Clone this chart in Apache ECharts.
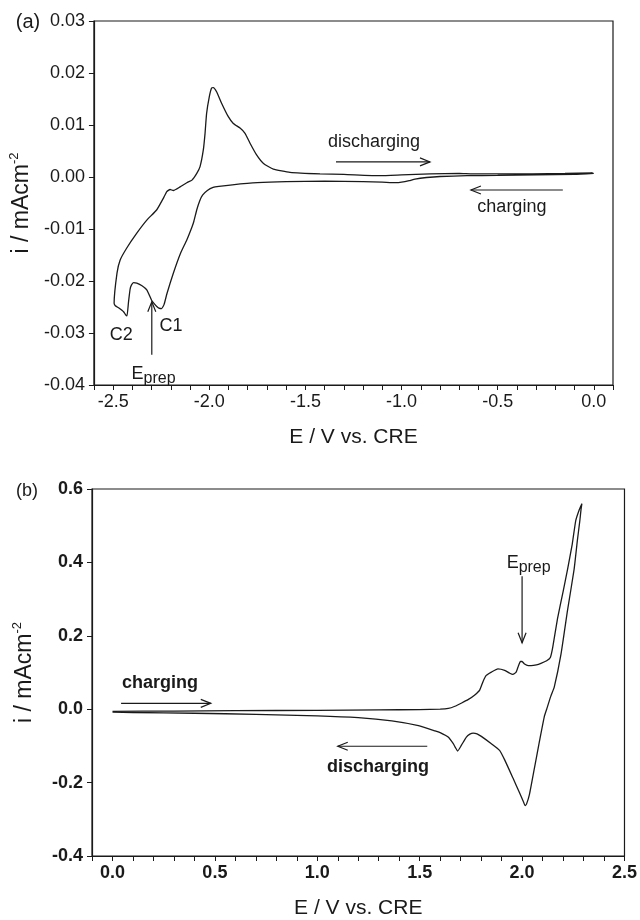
<!DOCTYPE html>
<html>
<head>
<meta charset="utf-8">
<script src="https://cdn.jsdelivr.net/npm/echarts@6/dist/echarts.min.js"></script>
<style>
  html, body { margin: 0; padding: 0; background: #fff; }
  #chart { width: 640px; height: 920px; }
</style>
</head>
<body>
<div id="chart"></div>
<script>
// (a) sweep: 0 V -> -2.5 V (charging, lower branch), then back to 0 V (discharging, upper branch)
const eA = [0.0, -0.1, -0.3, -0.5, -0.66, -0.8, -0.87, -0.93, -0.96, -1.0, -1.03, -1.1, -1.2, -1.4, -1.6, -1.75, -1.88, -1.95, -1.98, -2.01, -2.035, -2.05, -2.065, -2.08, -2.09, -2.117, -2.15, -2.187, -2.22, -2.235, -2.248, -2.262, -2.273, -2.29, -2.3, -2.325, -2.35, -2.377, -2.394, -2.405, -2.412, -2.42, -2.428, -2.435, -2.446, -2.47, -2.49,
  -2.495, -2.48, -2.464, -2.43, -2.377, -2.325, -2.273, -2.239, -2.221, -2.204, -2.187, -2.152, -2.117, -2.09, -2.065, -2.048, -2.031, -2.022, -2.014, -2.0, -1.988, -1.979, -1.962, -1.936, -1.901, -1.875, -1.84, -1.814, -1.788, -1.753, -1.718, -1.667, -1.58, -1.424, -1.3, -1.11, -1.0, -0.85, -0.7, -0.63, -0.45, -0.32, -0.15, -0.006];
const iA = [0.0007, 0.0005, 0.0004, 0.0003, 0.00025, 0.0001, -0.0001, -0.0004, -0.0007, -0.001, -0.0011, -0.001, -0.0009, -0.0008, -0.0009, -0.0011, -0.0015, -0.0018, -0.002, -0.0026, -0.0035, -0.0046, -0.0063, -0.0085, -0.0096, -0.0121, -0.0147, -0.0185, -0.0224, -0.0245, -0.0253, -0.0252, -0.0249, -0.0242, -0.0237, -0.0217, -0.0209, -0.0204, -0.0203, -0.0208, -0.0216, -0.024, -0.0267, -0.0265, -0.0259, -0.0252, -0.0247,
  -0.0243, -0.0185, -0.016, -0.0137, -0.0108, -0.0083, -0.0063, -0.0041, -0.0028, -0.0024, -0.0026, -0.0019, -0.0011, -0.0006, 0.0007, 0.002, 0.0052, 0.0084, 0.0122, 0.0154, 0.0171, 0.0172, 0.0164, 0.0142, 0.0116, 0.0103, 0.0094, 0.0084, 0.0065, 0.0042, 0.0026, 0.0015, 0.0009, 0.0006, 0.0005, 0.00025, 0.0004, 0.0006, 0.0007, 0.0006, 0.0006, 0.0006, 0.0007, 0.0008];

// (b) sweep: 0 V -> 2.3 V (charging, upper branch), then back to 0 V (discharging, lower branch)
const eB = [0.0, 0.3, 0.6, 1.0, 1.3, 1.5, 1.6, 1.64, 1.672, 1.705, 1.736, 1.769, 1.793, 1.809, 1.825, 1.85, 1.882, 1.915, 1.94, 1.955, 1.971, 1.982, 1.992, 2.0, 2.012, 2.03, 2.044, 2.07, 2.092, 2.12, 2.138, 2.15, 2.173, 2.2, 2.222, 2.245, 2.262, 2.28, 2.292,
  2.288, 2.282, 2.27, 2.254, 2.222, 2.19, 2.157, 2.14, 2.12, 2.109, 2.084, 2.06, 2.036, 2.022, 2.015, 2.005, 1.987, 1.955, 1.915, 1.89, 1.85, 1.801, 1.78, 1.761, 1.745, 1.728, 1.704, 1.685, 1.675, 1.664, 1.639, 1.6, 1.575, 1.494, 1.364, 1.2, 1.0, 0.7, 0.4, 0.1, 0.0];
const iB = [-0.006, -0.005, -0.004, -0.003, -0.002, -0.001, 0.0, 0.002, 0.008, 0.017, 0.026, 0.039, 0.052, 0.075, 0.092, 0.101, 0.11, 0.106, 0.098, 0.095, 0.101, 0.118, 0.13, 0.13, 0.123, 0.119, 0.119, 0.121, 0.125, 0.132, 0.141, 0.17, 0.247, 0.32, 0.381, 0.45, 0.514, 0.545, 0.56,
  0.545, 0.514, 0.46, 0.381, 0.27, 0.15, 0.06, 0.035, 0.0, -0.019, -0.09, -0.161, -0.232, -0.258, -0.263, -0.25, -0.227, -0.187, -0.138, -0.112, -0.094, -0.074, -0.067, -0.065, -0.068, -0.076, -0.098, -0.114, -0.105, -0.094, -0.076, -0.064, -0.059, -0.045, -0.032, -0.023, -0.018, -0.014, -0.011, -0.009, -0.008];

// labelled ticks
const xLabelsA = [-2.5, -2.0, -1.5, -1.0, -0.5, 0.0];
const xLabelsB = [0.0, 0.5, 1.0, 1.5, 2.0, 2.5];

const FONT = 'Liberation Sans, Arial, sans-serif';
const INK = '#1a1a1a';

const zip = (xs, ys) => xs.map((x, k) => [x, ys[k]]);
const clean = v => (Math.abs(v) < 1e-9 ? 0 : v);
const inList = (v, list) => list.some(t => Math.abs(t - v) < 1e-6);

function xAxis(gi, min, max, labels, weight) {
  return {
    type: 'value', gridIndex: gi, min: min, max: max, interval: 0.1,
    axisLine: { show: true, onZero: false, lineStyle: { color: INK, width: 1.2 } },
    axisTick: { show: true, length: 5, lineStyle: { color: INK, width: 1 } },
    splitLine: { show: false },
    axisLabel: {
      margin: 8, fontSize: 18, color: INK, fontFamily: FONT, fontWeight: weight,
      formatter: v => inList(v, labels) ? clean(v).toFixed(1) : ''
    },
    name: 'E / V vs. CRE', nameLocation: 'middle', nameGap: 42,
    nameTextStyle: { fontSize: 21, color: INK, fontFamily: FONT }
  };
}

function yAxis(gi, min, max, step, digits, weight) {
  return {
    type: 'value', gridIndex: gi, min: min, max: max, interval: step,
    axisLine: { show: true, onZero: false, lineStyle: { color: INK, width: 1.2 } },
    axisTick: { show: true, length: 5, lineStyle: { color: INK, width: 1 } },
    splitLine: { show: false },
    axisLabel: {
      margin: 9, fontSize: 18, color: INK, fontFamily: FONT, fontWeight: weight,
      formatter: v => clean(v).toFixed(digits)
    },
    name: '{n|i / mAcm}{s|-2}', nameLocation: 'middle', nameRotate: 90, nameGap: 54,
    nameTextStyle: {
      color: INK, fontFamily: FONT,
      rich: {
        n: { fontSize: 23, lineHeight: 27, fontFamily: FONT, color: INK },
        s: { fontSize: 13, lineHeight: 13, verticalAlign: 'top', fontFamily: FONT, color: INK }
      }
    }
  };
}

const chart = echarts.init(document.getElementById('chart'));

chart.setOption({
  animation: false,
  backgroundColor: '#fff',
  grid: [
    { left: 93, top: 21, width: 520, height: 364, show: true, borderColor: INK, borderWidth: 1.2 },
    { left: 92, top: 489, width: 535, height: 374, show: true, borderColor: INK, borderWidth: 1.2 }
  ],
  xAxis: [
    xAxis(0, -2.6, 0.1, xLabelsA, 'normal'),
    xAxis(1, -0.1, 2.5, xLabelsB, 'bold')
  ],
  yAxis: [
    yAxis(0, -0.04, 0.03, 0.01, 2, 'normal'),
    yAxis(1, -0.4, 0.6, 0.2, 1, 'bold')
  ],
  series: [
    { type: 'line', xAxisIndex: 0, yAxisIndex: 0, data: zip(eA, iA), showSymbol: false, smooth: 0.15,
      lineStyle: { color: INK, width: 1.3 } },
    { type: 'line', xAxisIndex: 1, yAxisIndex: 1, data: zip(eB, iB), showSymbol: false, smooth: 0.15,
      lineStyle: { color: INK, width: 1.3 } }
  ]
});

// annotations, anchored in data coordinates
const notes = [
  { grid: 0, text: 'discharging', at: [-1.143, 0.0067] },
  { grid: 0, text: 'charging', at: [-0.426, -0.0058] },
  { grid: 0, text: 'C2', at: [-2.458, -0.0304] },
  { grid: 0, text: 'C1', at: [-2.199, -0.0287] },
  { grid: 0, text: '{e|E}{p|prep}', at: [-2.29, -0.0378] },
  { grid: 1, text: 'charging', at: [0.232, 0.072], bold: true },
  { grid: 1, text: 'discharging', at: [1.296, -0.157], bold: true },
  { grid: 1, text: '{e|E}{p|prep}', at: [2.032, 0.399] }
];
const arrows = [
  { grid: 0, from: [-1.341, 0.0029], to: [-0.852, 0.0029] },
  { grid: 0, from: [-0.161, -0.0025], to: [-0.639, -0.0025] },
  { grid: 0, from: [-2.299, -0.0342], to: [-2.299, -0.024] },
  { grid: 1, from: [0.042, 0.016], to: [0.48, 0.016] },
  { grid: 1, from: [1.537, -0.101], to: [1.1, -0.101] },
  { grid: 1, from: [2.0, 0.362], to: [2.0, 0.181] }
];

const px = (g, p) => chart.convertToPixel({ gridIndex: g }, p);
const graphic = [];

notes.forEach(n => {
  const p = px(n.grid, n.at);
  graphic.push({
    type: 'text', x: p[0], y: p[1], silent: true,
    style: {
      text: n.text, fill: INK, fontFamily: FONT, fontSize: 18,
      fontWeight: n.bold ? 'bold' : 'normal', align: 'center', verticalAlign: 'middle',
      rich: {
        e: { fontSize: 18, lineHeight: 26, fontFamily: FONT, fill: INK },
        p: { fontSize: 16, lineHeight: 16, verticalAlign: 'bottom', fontFamily: FONT, fill: INK }
      }
    }
  });
});

arrows.forEach(a => {
  const p0 = px(a.grid, a.from);
  const p1 = px(a.grid, a.to);
  const dx = p1[0] - p0[0], dy = p1[1] - p0[1];
  const len = Math.hypot(dx, dy);
  const ux = dx / len, uy = dy / len;
  const hl = 10, hw = 4;
  graphic.push({
    type: 'line', silent: true,
    shape: { x1: p0[0], y1: p0[1], x2: p1[0], y2: p1[1] },
    style: { stroke: INK, lineWidth: 1.2 }
  });
  graphic.push({
    type: 'polyline', silent: true,
    shape: { points: [
      [p1[0] - hl * ux - hw * uy, p1[1] - hl * uy + hw * ux],
      [p1[0], p1[1]],
      [p1[0] - hl * ux + hw * uy, p1[1] - hl * uy - hw * ux]
    ] },
    style: { stroke: INK, lineWidth: 1.2, fill: null }
  });
});

graphic.push({ type: 'text', x: 28, y: 22, silent: true,
  style: { text: '(a)', fill: INK, fontFamily: FONT, fontSize: 20, align: 'center', verticalAlign: 'middle' } });
graphic.push({ type: 'text', x: 27, y: 491, silent: true,
  style: { text: '(b)', fill: INK, fontFamily: FONT, fontSize: 18, align: 'center', verticalAlign: 'middle' } });

chart.setOption({ graphic: graphic });
</script>
</body>
</html>
